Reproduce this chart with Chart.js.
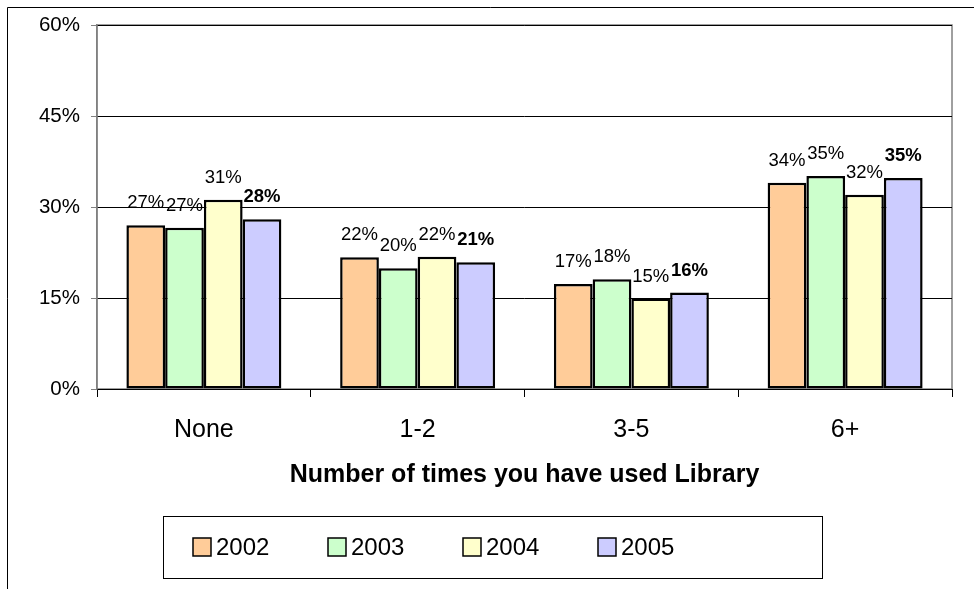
<!DOCTYPE html>
<html>
<head>
<meta charset="utf-8">
<script src="https://cdn.jsdelivr.net/npm/chart.js@4.4.1/dist/chart.umd.min.js"></script>
<style>
  html, body { margin: 0; padding: 0; background: #fff; }
  #wrap { width: 974px; height: 589px; position: relative; }
</style>
</head>
<body>
<div id="wrap"><canvas id="grafico" width="974" height="589"></canvas></div>
<script>
const categorias = ['None', '1-2', '3-5', '6+'];
const anos = ['2002', '2003', '2004', '2005'];
const valores2002 = [27.0, 21.7, 17.3, 34.0];
const valores2003 = [26.6, 19.9, 18.1, 35.1];
const valores2004 = [31.2, 21.8, 14.9, 32.0];
const valores2005 = [28.0, 20.9, 15.9, 34.8];
const ticksY = [0, 15, 30, 45, 60];
const cores = ['#FFCC99', '#CCFFCC', '#FFFFCC', '#CCCCFF'];

const FONTE = '"Liberation Sans", Arial, sans-serif';

// moldura externa + borda da area do grafico
const molduraPlugin = {
  id: 'moldura',
  beforeDraw(chart) {
    const ctx = chart.ctx;
    const a = chart.chartArea;
    ctx.save();
    ctx.strokeStyle = '#000';
    ctx.lineWidth = 1;
    ctx.beginPath();
    ctx.moveTo(7.5, 589);
    ctx.lineTo(7.5, 7.5);
    ctx.lineTo(974, 7.5);
    ctx.stroke();
    ctx.strokeStyle = '#808080';
    ctx.lineWidth = 1.5;
    ctx.strokeRect(a.left, a.top, a.right - a.left, a.bottom - a.top);
    ctx.restore();
  }
};

// rotulos de valor em cima das barras
const rotulosPlugin = {
  id: 'rotulos',
  afterDatasetsDraw(chart) {
    const ctx = chart.ctx;
    ctx.save();
    ctx.fillStyle = '#000';
    ctx.textAlign = 'center';
    ctx.textBaseline = 'middle';
    chart.data.datasets.forEach((ds, i) => {
      const meta = chart.getDatasetMeta(i);
      ctx.font = (ds.rotuloNegrito ? 'bold ' : '') + '18.5px ' + FONTE;
      meta.data.forEach((bar, j) => {
        ctx.fillText(Math.round(ds.data[j]) + '%', bar.x, bar.y - 22);
      });
    });
    ctx.restore();
  }
};

// legenda no estilo do excel (caixa com borda)
const legendaPlugin = {
  id: 'legendaCaixa',
  afterDraw(chart) {
    const ctx = chart.ctx;
    const bx = 163, by = 516, bw = 659, bh = 62;
    ctx.save();
    ctx.strokeStyle = '#000';
    ctx.lineWidth = 1;
    ctx.strokeRect(bx + 0.5, by + 0.5, bw, bh);
    ctx.font = '24px ' + FONTE;
    ctx.textBaseline = 'middle';
    ctx.textAlign = 'left';
    chart.data.datasets.forEach((ds, i) => {
      const x = bx + 30 + i * 135;
      const cy = by + 31;
      ctx.fillStyle = ds.backgroundColor;
      ctx.fillRect(x, cy - 9, 18, 18);
      ctx.strokeStyle = '#000';
      ctx.lineWidth = 1.5;
      ctx.strokeRect(x, cy - 9, 18, 18);
      ctx.fillStyle = '#000';
      ctx.fillText(ds.label, x + 23, cy + 1);
    });
    ctx.restore();
  }
};

const series = [valores2002, valores2003, valores2004, valores2005];

const chart = new Chart(document.getElementById('grafico').getContext('2d'), {
  type: 'bar',
  data: {
    labels: categorias,
    datasets: anos.map((ano, i) => ({
      label: ano,
      data: series[i],
      backgroundColor: cores[i],
      borderColor: '#000',
      borderWidth: 2.5,
      borderSkipped: false,
      categoryPercentage: 0.725,
      barPercentage: 1.0,
      rotuloNegrito: i === 3
    }))
  },
  options: {
    responsive: false,
    animation: false,
    devicePixelRatio: 1,
    layout: { padding: { left: 0, right: 22, top: 25, bottom: 80 } },
    plugins: {
      legend: { display: false },
      tooltip: { enabled: false }
    },
    scales: {
      x: {
        grid: {
          display: true,
          drawOnChartArea: false,
          drawTicks: true,
          tickLength: 8,
          tickColor: '#000',
          offset: true
        },
        border: { color: '#000', width: 1 },
        ticks: {
          color: '#000',
          padding: 18,
          font: { family: FONTE, size: 25 }
        },
        title: {
          display: true,
          text: 'Number of times you have used Library',
          color: '#000',
          font: { family: FONTE, size: 25, weight: 'bold' },
          padding: { top: 0, bottom: 19 }
        },
        afterFit(scale) { scale.height = 120; }
      },
      y: {
        min: 0,
        max: 60,
        afterBuildTicks(scale) { scale.ticks = ticksY.map(v => ({ value: v })); },
        grid: {
          color: '#000',
          lineWidth: 1,
          tickColor: '#808080',
          tickLength: 6
        },
        border: { color: '#808080', width: 1.5 },
        ticks: {
          color: '#000',
          padding: 11,
          font: { family: FONTE, size: 20.5 },
          callback: v => v + '%'
        },
        afterFit(scale) { scale.width = 97; }
      }
    }
  },
  plugins: [molduraPlugin, rotulosPlugin, legendaPlugin]
});
</script>
</body>
</html>
